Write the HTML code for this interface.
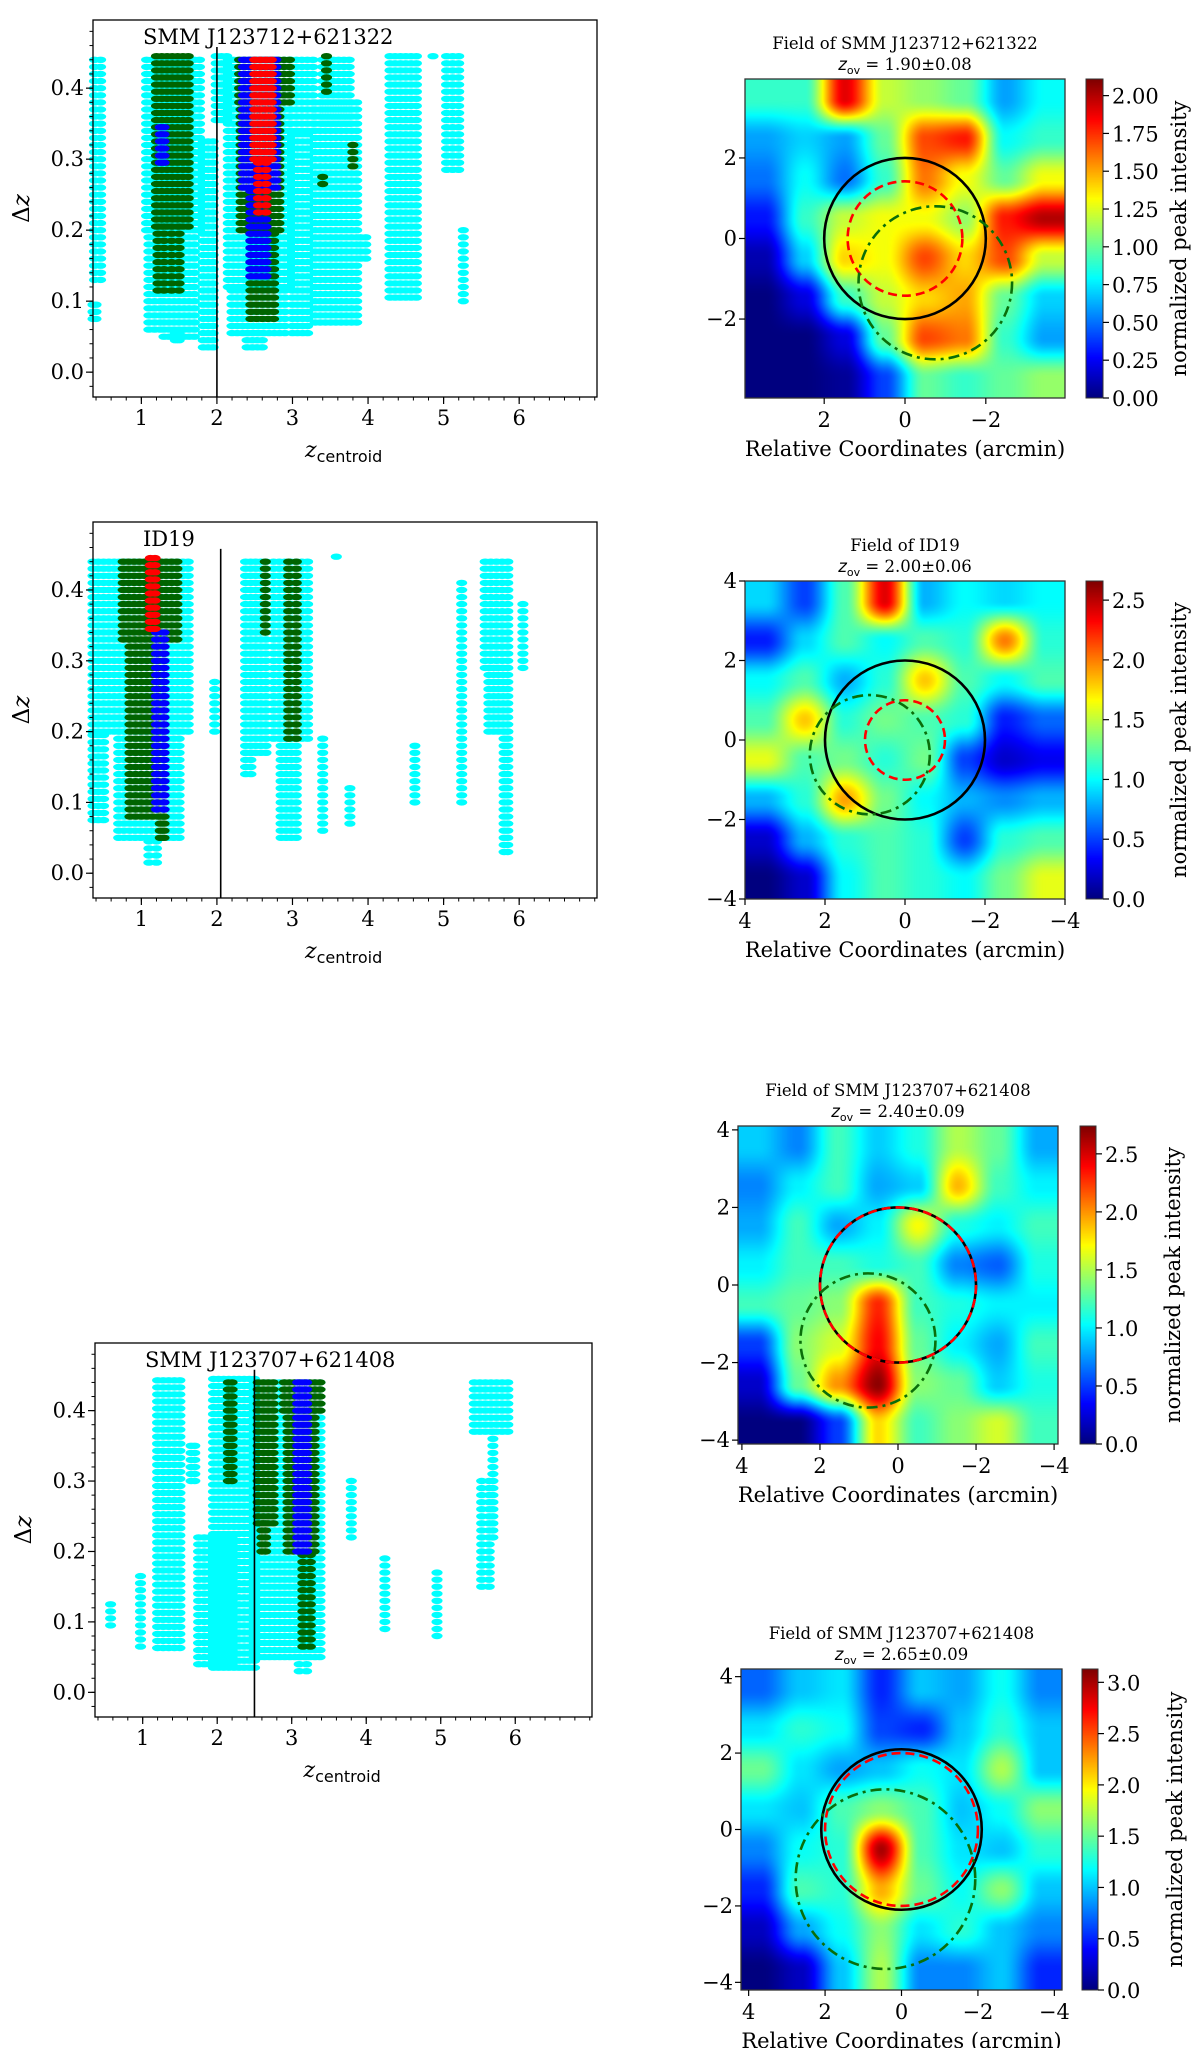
<!DOCTYPE html>
<html><head><meta charset="utf-8">
<style>
html,body{margin:0;padding:0;background:#fff;}
#wrap{position:relative;width:1200px;height:2048px;overflow:hidden;background:#fff;}
canvas{position:absolute;}
svg{position:absolute;left:0;top:0;}
text{font-family:"DejaVu Serif","Liberation Serif",serif;fill:#000;}
</style></head>
<body>
<div id="wrap">
<svg id="svg" width="1200" height="2048"></svg>
</div>
<script>
// ---------- scatter data: [zStart, zEnd, dzLow, dzHigh, colorKey] ----------
const segsA = [
 [0.38,0.46,0.13,0.445,'c'],[0.36,0.40,0.075,0.10,'c'],
 [1.07,1.77,0.2,0.445,'c'],[1.1,1.25,0.06,0.2,'c'],[1.3,1.7,0.05,0.2,'c'],[1.45,1.5,0.045,0.06,'c'],
 [1.82,1.95,0.035,0.327,'c'],[1.99,2.13,0.355,0.445,'c'],
 [2.15,2.96,0.12,0.445,'c'],[2.2,2.9,0.055,0.12,'c'],[2.4,2.6,0.035,0.06,'c'],
 [2.98,3.27,0.34,0.445,'c'],[3.0,3.2,0.055,0.34,'c'],
 [3.4,3.75,0.35,0.445,'c'],[3.3,3.85,0.07,0.38,'c'],[3.9,3.97,0.16,0.19,'c'],
 [4.29,4.64,0.105,0.445,'c'],[4.86,4.86,0.445,0.445,'c'],[5.04,5.2,0.285,0.445,'c'],[5.26,5.26,0.1,0.2,'c'],
 [1.2,1.62,0.205,0.445,'g'],[1.22,1.3,0.115,0.205,'g'],[1.4,1.5,0.115,0.205,'g'],
 [2.3,2.96,0.38,0.445,'g'],[2.32,2.82,0.2,0.38,'g'],[2.45,2.75,0.075,0.2,'g'],
 [3.45,3.45,0.395,0.445,'g'],[3.8,3.8,0.29,0.32,'g'],[3.4,3.4,0.265,0.28,'g'],
 [1.25,1.3,0.295,0.345,'b'],[2.35,2.78,0.26,0.445,'b'],[2.45,2.65,0.135,0.26,'b'],
 [2.5,2.72,0.3,0.445,'r'],[2.55,2.65,0.225,0.3,'r']
];
const segsB = [
 [0.36,1.62,0.2,0.447,'c'],[0.36,0.5,0.075,0.2,'c'],[0.7,1.5,0.05,0.2,'c'],[1.1,1.2,0.015,0.05,'c'],
 [1.97,1.97,0.2,0.27,'c'],[2.38,2.65,0.17,0.447,'c'],[2.38,2.45,0.14,0.17,'c'],
 [2.75,3.2,0.19,0.447,'c'],[2.85,3.05,0.05,0.19,'c'],[3.58,3.58,0.447,0.447,'c'],
 [3.4,3.4,0.06,0.19,'c'],[3.76,3.76,0.07,0.12,'c'],[4.62,4.62,0.1,0.18,'c'],[5.24,5.24,0.1,0.41,'c'],
 [5.55,5.85,0.29,0.447,'c'],[5.6,5.85,0.2,0.29,'c'],[5.8,5.85,0.03,0.2,'c'],[6.05,6.05,0.29,0.38,'c'],
 [0.76,1.47,0.33,0.447,'g'],[0.85,1.3,0.08,0.33,'g'],[1.25,1.3,0.05,0.08,'g'],
 [2.64,2.64,0.34,0.447,'g'],[2.95,3.05,0.19,0.447,'g'],
 [1.2,1.3,0.09,0.345,'b'],[1.12,1.18,0.345,0.447,'r']
];
const segsC = [
 [0.57,0.57,0.095,0.13,'c'],[0.97,0.97,0.065,0.167,'c'],[1.2,1.5,0.063,0.448,'c'],[1.65,1.7,0.3,0.35,'c'],
 [1.75,2.2,0.04,0.22,'c'],[1.95,2.5,0.035,0.448,'c'],[2.5,3.38,0.05,0.448,'c'],[3.1,3.2,0.03,0.05,'c'],
 [3.8,3.8,0.22,0.3,'c'],[4.25,4.25,0.09,0.19,'c'],[4.95,4.95,0.08,0.17,'c'],
 [5.45,5.9,0.37,0.448,'c'],[5.55,5.65,0.15,0.3,'c'],[5.7,5.7,0.22,0.37,'c'],
 [2.15,2.2,0.3,0.448,'g'],[2.55,2.75,0.24,0.448,'g'],[2.6,2.65,0.2,0.24,'g'],
 [2.9,3.38,0.4,0.448,'g'],[2.95,3.3,0.2,0.4,'g'],[3.15,3.25,0.065,0.2,'g'],
 [3.08,3.2,0.2,0.448,'b']
];
const xTicksZ = [1,2,3,4,5,6];
const yTicksDz = [0.0,0.1,0.2,0.3,0.4];
const panelTitles = ['SMM J123712+621322','ID19','SMM J123707+621408'];
const zLines = [2.0, 2.05, 2.5];

// ---------- map data (8x8 normalized intensity, rows top->bottom) ----------
const mapA = [[0.9,0.9,1.9,1.2,1.1,1.0,0.6,0.8],[0.6,0.7,0.6,1.0,1.7,1.8,0.8,0.9],[0.5,0.8,0.5,0.9,1.6,1.3,1.0,1.3],[0.3,0.9,1.2,1.3,1.3,1.1,1.8,2.0],[0.1,0.7,1.4,1.3,1.7,1.4,1.7,1.2],[0.0,0.2,0.9,1.2,1.4,1.5,1.0,0.7],[0.0,0.0,0.2,1.0,1.7,1.6,0.9,0.6],[0.0,0.0,0.05,0.4,1.0,0.9,1.0,1.1]];
const mapB = [[0.9,0.5,1.2,2.4,0.8,1.0,0.9,1.0],[0.4,0.9,1.2,1.0,1.2,1.1,2.0,1.1],[1.0,1.2,0.8,1.1,1.8,1.2,1.0,1.2],[1.2,1.8,1.1,1.3,1.2,1.1,0.4,0.6],[1.6,1.2,1.3,1.1,1.3,0.5,0.2,0.3],[0.8,1.1,1.9,1.3,1.0,0.8,0.7,0.8],[0.2,0.8,1.1,1.2,1.1,0.5,1.1,1.2],[0.0,0.2,1.0,1.2,1.1,1.0,1.3,1.6]];
const mapC = [[0.9,0.7,1.2,0.9,1.1,1.5,1.3,0.8],[0.7,1.0,1.2,0.8,0.9,1.9,1.2,1.0],[0.8,1.2,0.8,1.0,1.7,1.1,1.0,1.2],[1.0,1.2,1.2,1.1,1.2,0.7,0.6,1.1],[1.2,1.3,1.4,2.3,1.2,1.1,1.0,1.0],[0.5,1.4,1.6,2.4,1.3,1.0,0.8,1.2],[0.2,1.3,2.0,2.7,1.4,1.3,0.9,1.1],[0.0,0.0,0.5,1.8,1.2,1.4,1.6,1.2]];
const mapD = [[0.7,1.0,1.1,0.5,1.0,0.9,1.2,0.8],[1.1,1.3,1.2,0.6,0.5,1.0,1.3,1.0],[1.5,1.1,0.9,1.0,1.2,1.1,1.7,1.0],[1.1,1.0,1.4,1.6,1.4,1.0,1.2,1.6],[0.8,1.2,1.3,3.0,1.4,1.1,1.0,1.3],[0.5,1.4,1.3,2.2,1.5,1.2,1.6,1.0],[0.2,0.9,1.2,1.6,1.1,1.3,1.0,0.8],[0.0,0.2,1.0,1.7,0.8,0.8,1.0,0.5]];
const mapTitles = ['Field of SMM J123712+621322','Field of ID19','Field of SMM J123707+621408','Field of SMM J123707+621408'];
const mapZov = ['1.90±0.08','2.00±0.06','2.40±0.09','2.65±0.09'];
const cbarMax = [2.11,2.66,2.74,3.13];
const cbarTicksA = [0,0.25,0.5,0.75,1.0,1.25,1.5,1.75,2.0];
const cbarTicksB = [0,0.5,1.0,1.5,2.0,2.5];
const cbarTicksD = [0,0.5,1.0,1.5,2.0,2.5,3.0];
// circles: [x, y, r] in arcmin
const blackCircles = [[0,0,2.0],[0,0,2.0],[0,0,2.0],[0,0,2.1]];
const redCircles = [[0,0,1.42],[0,0,1.0],[0,0,2.0],[0,0,2.0]];
const greenCircles = [[-0.75,-1.1,1.9],[0.88,-0.37,1.5],[0.77,-1.43,1.73],[0.42,-1.3,2.35]];

const NS='http://www.w3.org/2000/svg';
const svg=document.getElementById('svg');
const wrap=document.getElementById('wrap');
function mk(tag,attrs,parent){const e=document.createElementNS(NS,tag);for(const k in attrs)e.setAttribute(k,attrs[k]);(parent||svg).appendChild(e);return e;}
const COL={c:'#00ffff',g:'#006400',b:'#0000ff',r:'#ff0000'};

// ---------- scatter panels ----------
const Z0=0.36,Z1=7.03,D0=-0.035,D1=0.496;
function scatterPanel(idx,box,segs){
  const g=mk('g',{});
  
  
  const xS=z=>box.x+(z-Z0)/(Z1-Z0)*box.w;
  const yS=d=>box.y+box.h-(d-D0)/(D1-D0)*box.h;
  const pts=mk('g',{},g);
  
  
  segs.forEach(s=>{
    const span=s[1]-s[0];
    const n=Math.max(0,Math.round(span/0.07));
    for(let k=0;k<=n;k++){
      const z=n?s[0]+span*k/n:s[0];
      for(let d=s[2];d<=s[3]+1e-6;d+=0.01){
        const e=mk('ellipse',{cx:xS(z).toFixed(1),cy:yS(d).toFixed(1),rx:5.6,ry:3.2,fill:COL[s[4]]},pts);
        
        
      }
    }
  });
  const vl=mk('line',{x1:xS(zLines[idx]),x2:xS(zLines[idx]),y1:yS(0.458),y2:box.y+box.h,stroke:'#000','stroke-width':1.6},g);
  
  
  const fr=mk('rect',{x:box.x,y:box.y,width:box.w,height:box.h,fill:'none',stroke:'#000','stroke-width':1.3},g);
  
  
  for(let z=0.4;z<7.01;z+=0.2){const x=xS(z);mk('line',{x1:x,x2:x,y1:box.y+box.h,y2:box.y+box.h+3.5,stroke:'#000','stroke-width':1},g);}
  for(let d=-0.02;d<0.491;d+=0.02){const y=yS(d);mk('line',{x1:box.x,x2:box.x-3.5,y1:y,y2:y,stroke:'#000','stroke-width':1},g);}
  xTicksZ.forEach(z=>{const x=xS(z);mk('line',{x1:x,x2:x,y1:box.y+box.h,y2:box.y+box.h+7,stroke:'#000','stroke-width':1.2},g);
    const t=mk('text',{x:x,y:box.y+box.h+28,'text-anchor':'middle','font-size':21},g);t.textContent=z;
    });
  yTicksDz.forEach(d=>{const y=yS(d);mk('line',{x1:box.x,x2:box.x-7,y1:y,y2:y,stroke:'#000','stroke-width':1.2},g);
    const t=mk('text',{x:box.x-9,y:y+7,'text-anchor':'end','font-size':21},g);t.textContent=d.toFixed(1);
    });
  const tt=mk('text',{x:box.x+50,y:box.y+24,'font-size':21},g);tt.textContent=panelTitles[idx];
  
  const xl=mk('text',{x:box.x+box.w/2-40,y:box.y+box.h+60,'font-size':22},g);
  xl.innerHTML='<tspan font-style="italic">z</tspan><tspan font-family="DejaVu Sans, Liberation Sans, sans-serif" font-size="16" dy="5">centroid</tspan>';
  
  const yl=mk('text',{transform:'translate('+(box.x-64)+','+(box.y+box.h/2)+') rotate(-90)','text-anchor':'middle','font-size':23,'font-family':'DejaVu Sans, sans-serif'},g);
  yl.innerHTML='Δ<tspan font-style="italic">z</tspan>';
  
}
scatterPanel(0,{x:93,y:20,w:504,h:377},segsA);
scatterPanel(1,{x:93,y:522,w:504,h:376},segsB);
scatterPanel(2,{x:95,y:1343,w:497,h:374},segsC);

// ---------- maps ----------
function jet(t){t=Math.max(0,Math.min(1,t));
  const f=(a)=>Math.max(0,Math.min(1,a));
  const r=f(Math.min(4*t-1.5,-4*t+4.5)),g=f(Math.min(4*t-0.5,-4*t+3.5)),b=f(Math.min(4*t+0.5,-4*t+2.5));
  return [r*255|0,g*255|0,b*255|0];}
function sm(t){return t*t*(3-2*t);}
function mapPanel(idx,box,grid,E,ticks,cbTicks,cbFmt,cbar){
  const max=cbarMax[idx];
  const cv=document.createElement('canvas');cv.width=box.w;cv.height=box.h;
  cv.style.left=box.x+'px';cv.style.top=box.y+'px';
  
  
  wrap.insertBefore(cv,svg);
  const ctx=cv.getContext('2d');const im=ctx.createImageData(box.w,box.h);const n=grid.length;
  for(let py=0;py<box.h;py++){for(let px=0;px<box.w;px++){
    let gx=(px+0.5)/box.w*n-0.5,gy=(py+0.5)/box.h*n-0.5;
    gx=Math.max(0,Math.min(n-1.0001,gx));gy=Math.max(0,Math.min(n-1.0001,gy));
    const i=Math.floor(gx),j=Math.floor(gy),fx=sm(gx-i),fy=sm(gy-j);
    const v=grid[j][i]*(1-fx)*(1-fy)+grid[j][i+1]*fx*(1-fy)+grid[j+1][i]*(1-fx)*fy+grid[j+1][i+1]*fx*fy;
    const c=jet(v/max);const k=(py*box.w+px)*4;im.data[k]=c[0];im.data[k+1]=c[1];im.data[k+2]=c[2];im.data[k+3]=255;}}
  ctx.putImageData(im,0,0);
  const cb=document.createElement('canvas');cb.width=cbar.w;cb.height=box.h;
  cb.style.left=cbar.x+'px';cb.style.top=box.y+'px';
  
  
  wrap.insertBefore(cb,svg);
  const c2=cb.getContext('2d');
  for(let py=0;py<box.h;py++){const c=jet(1-py/(box.h-1));c2.fillStyle='rgb('+c+')';c2.fillRect(0,py,cbar.w,1);}
  const g=mk('g',{});
  
  
  const cx0=box.x+box.w/2,cy0=box.y+box.h/2,ppx=box.w/(2*E),ppy=box.h/(2*E);
  const X=a=>cx0-a*ppx,Y=a=>cy0-a*ppy;
  const drawC=(c,attrs,name)=>{const e=mk('ellipse',Object.assign({cx:X(c[0]),cy:Y(c[1]),rx:c[2]*ppx,ry:c[2]*ppy,fill:'none'},attrs),g);
    };
  drawC(blackCircles[idx],{stroke:'#000','stroke-width':2.6},'black-circle');
  drawC(redCircles[idx],{stroke:'#ff0000','stroke-width':2.6,'stroke-dasharray':'9,5'},'red-dashed-circle');
  drawC(greenCircles[idx],{stroke:'#0a6e0a','stroke-width':2.6,'stroke-dasharray':'11,5,3,5'},'green-dashdot-circle');
  const fr=mk('rect',{x:box.x,y:box.y,width:box.w,height:box.h,fill:'none',stroke:'#333','stroke-width':1.3},g);
  
  const cfr=mk('rect',{x:cbar.x,y:box.y,width:cbar.w,height:box.h,fill:'none',stroke:'#333','stroke-width':1},g);
  
  const fmt=v=>(v<0?'−':'')+Math.abs(v);
  ticks.forEach(v=>{
    const x=X(v);mk('line',{x1:x,x2:x,y1:box.y+box.h,y2:box.y+box.h+6,stroke:'#000','stroke-width':1.2},g);
    const t=mk('text',{x:x,y:box.y+box.h+29,'text-anchor':'middle','font-size':21},g);t.textContent=fmt(v);
    
    const y=Y(v);mk('line',{x1:box.x,x2:box.x-6,y1:y,y2:y,stroke:'#000','stroke-width':1.2},g);
    const t2=mk('text',{x:box.x-8,y:y+7,'text-anchor':'end','font-size':21},g);t2.textContent=fmt(v);
    
  });
  cbTicks.forEach(v=>{const y=box.y+box.h-v/max*box.h;
    mk('line',{x1:cbar.x+cbar.w,x2:cbar.x+cbar.w+6,y1:y,y2:y,stroke:'#000','stroke-width':1.2},g);
    const t=mk('text',{x:cbar.x+cbar.w+9,y:y+8,'font-size':21},g);t.textContent=v.toFixed(cbFmt);
    });
  const cl=mk('text',{transform:'translate('+(cbar.x+100)+','+cy0+') rotate(-90)','text-anchor':'middle','font-size':21},g);
  cl.textContent='normalized peak intensity';
  const t1=mk('text',{x:cx0,y:box.y-30,'text-anchor':'middle','font-size':16.5},g);t1.textContent=mapTitles[idx];
  
  const t2=mk('text',{x:cx0,y:box.y-9,'text-anchor':'middle','font-size':16.5},g);
  t2.innerHTML='<tspan font-style="italic" font-family="DejaVu Sans, sans-serif">z</tspan><tspan font-family="DejaVu Sans, sans-serif" font-size="11" dy="4">ov</tspan><tspan dy="-4"> = '+mapZov[idx]+'</tspan>';
  
  const xl=mk('text',{x:cx0,y:box.y+box.h+58,'text-anchor':'middle','font-size':21},g);xl.textContent='Relative Coordinates (arcmin)';
  
}
mapPanel(0,{x:745,y:79,w:320,h:319},mapA,3.96,[2,0,-2],cbarTicksA,2,{x:1086,w:17});
mapPanel(1,{x:745,y:581,w:320,h:318},mapB,4.0,[4,2,0,-2,-4],cbarTicksB,1,{x:1086,w:17});
mapPanel(2,{x:738,y:1126,w:320,h:318},mapC,4.1,[4,2,0,-2,-4],cbarTicksB,1,{x:1080,w:16});
mapPanel(3,{x:741,y:1669,w:321,h:321},mapD,4.2,[4,2,0,-2,-4],cbarTicksD,1,{x:1082,w:16});
</script>
</body></html>
